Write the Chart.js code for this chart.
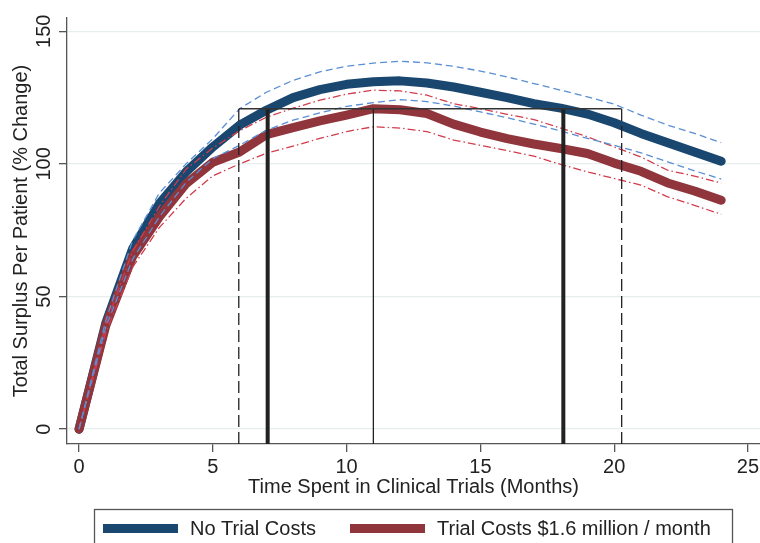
<!DOCTYPE html>
<html>
<head>
<meta charset="utf-8">
<script src="https://cdn.jsdelivr.net/npm/chart.js@4/dist/chart.umd.min.js"></script>
<style>
  body { margin: 0; background: #fff; }
</style>
</head>
<body>
<canvas id="mycanvas" width="760" height="543"></canvas>
<script>
// months in clinical trials
var months = [0, 1, 2, 3, 4, 5, 6, 7, 8, 9, 10, 11, 12, 13, 14, 15, 16, 17, 18, 19, 20, 21, 22, 23, 24];

// no trial costs: estimate and confidence band
var noCost   = [0, 40, 68, 85, 97, 106.4, 114.6, 120.2, 125, 128, 130, 131, 131.3, 130.5, 129, 127, 125, 122.7, 121, 118.8, 115.5, 111.5, 108, 104.5, 101];
var noCostHi = [0, 41, 71, 89, 100, 109.5, 120.8, 127, 131.5, 134.7, 136.8, 138, 138.7, 138.1, 136.8, 135, 132.8, 130.3, 127.8, 125.3, 122.5, 118.4, 114.6, 111.5, 108];
var noCostLo = [0, 38.5, 64, 80, 93, 102, 107, 112.7, 116.5, 119.2, 121.7, 123.1, 124.2, 123.5, 121.8, 119.6, 117.4, 115, 112.4, 109.6, 107, 104.2, 100.8, 97.4, 94.3];

// trial costs $1.6 million / month
var withCost   = [0, 39, 65, 80, 92.5, 100.6, 104.5, 111, 113.7, 116.2, 118.4, 120.8, 120.4, 119, 115, 112, 109.5, 107.5, 105.8, 103.9, 100.3, 97.2, 92.8, 89.8, 86.3];
var withCostHi = [0, 39.5, 67, 84, 98, 106, 112.5, 117.6, 121, 124, 126.3, 127.8, 127.5, 125.9, 122.7, 120.8, 118.7, 116.7, 113.5, 110.2, 106.4, 102.6, 97.6, 95.4, 92.8];
var withCostLo = [0, 36.5, 61, 76, 87, 95.5, 100, 104, 106.7, 109.6, 112.2, 114, 113.5, 112.2, 109, 107, 105, 102.9, 99.8, 97, 94.5, 92, 87.6, 84.4, 81];

// reference lines
var refLevel = 120.8;
var crossX = [7.05, 18.1];
var peakX = 11;
var bandX = [5.97, 20.28];

var xTicks = [0, 5, 10, 15, 20, 25];
var yTicks = [0, 50, 100, 150];
var xRange = [-0.45, 25.45];
var yRange = [-5.6, 155];

var labels = ["No Trial Costs", "Trial Costs $1.6 million / month"];
var xTitle = "Time Spent in Clinical Trials (Months)";
var yTitle = "Total Surplus Per Patient (% Change)";

var navy = "#1a476f";
var maroon = "#90353b";
var textColor = "#222";
var font = "20px 'Liberation Sans', Arial, sans-serif";

function pts(xs, ys) {
    return xs.map(function(x, i) { return {x: x, y: ys[i]}; });
}

function vline(x, top, width, dash) {
    return {
        data: [{x: x, y: yRange[0]}, {x: x, y: top}],
        borderColor: "#222", borderWidth: width, borderDash: dash || [],
        pointRadius: 0, fill: false
    };
}

function band(ys, color, dash) {
    return {
        data: pts(months, ys), borderColor: color, borderWidth: 1.3,
        borderDash: dash, pointRadius: 0, fill: false, tension: 0
    };
}

var datasets = [
    {
        data: [{x: bandX[0], y: refLevel}, {x: bandX[1], y: refLevel}],
        borderColor: "#333", borderWidth: 1.6, pointRadius: 0, fill: false
    },
    vline(crossX[0], refLevel, 4),
    vline(crossX[1], refLevel, 4),
    vline(peakX, refLevel, 1.3),
    vline(bandX[0], refLevel, 1.3, [12, 5]),
    vline(bandX[1], refLevel, 1.3, [12, 5]),
    band(noCostHi, "#5a8ed6", [7, 4]),
    band(noCostLo, "#5a8ed6", [7, 4]),
    band(withCostHi, "#d23c4c", [8, 3, 1.5, 3]),
    band(withCostLo, "#d23c4c", [8, 3, 1.5, 3]),
    {
        label: labels[1], data: pts(months, withCost), borderColor: maroon,
        borderWidth: 9, borderCapStyle: "round", borderJoinStyle: "round",
        pointRadius: 0, fill: false, tension: 0
    },
    {
        label: labels[0], data: pts(months, noCost), borderColor: navy,
        borderWidth: 9, borderCapStyle: "round", borderJoinStyle: "round",
        pointRadius: 0, fill: false, tension: 0
    }
];

// y tick labels are vertical in the original, plus titles and boxed legend
var decor = {
    id: "decor",
    afterDraw: function(chart) {
        var ctx = chart.ctx;
        var area = chart.chartArea;
        var ys = chart.scales.y;
        ctx.save();
        ctx.fillStyle = textColor;
        ctx.font = font;
        ctx.textAlign = "center";
        ctx.textBaseline = "alphabetic";

        ys.ticks.forEach(function(t) {
            ctx.save();
            ctx.translate(50, ys.getPixelForValue(t.value));
            ctx.rotate(-Math.PI / 2);
            ctx.fillText(String(t.value), 0, 0);
            ctx.restore();
        });

        ctx.save();
        ctx.translate(27, (area.top + area.bottom) / 2);
        ctx.rotate(-Math.PI / 2);
        ctx.fillText(yTitle, 0, 0);
        ctx.restore();

        var cx = (area.left + area.right) / 2;
        ctx.fillText(xTitle, cx, 493);

        // legend
        ctx.strokeStyle = "#555";
        ctx.lineWidth = 1.3;
        ctx.strokeRect(94.5, 509.5, 638, 60);
        ctx.textAlign = "left";
        ctx.fillStyle = navy;
        ctx.fillRect(103, 524, 75, 9);
        ctx.fillStyle = maroon;
        ctx.fillRect(350, 524, 75, 9);
        ctx.fillStyle = textColor;
        ctx.fillText(labels[0], 190, 535);
        ctx.fillText(labels[1], 437, 535);
        ctx.restore();
    }
};

var ctx = document.getElementById("mycanvas");

var chart = new Chart(ctx, {
    type: "line",
    data: {datasets: datasets},
    plugins: [decor],
    options: {
        responsive: false,
        animation: false,
        devicePixelRatio: 1,
        layout: {padding: {top: 18, left: 0, right: 0, bottom: 0}},
        plugins: {legend: {display: false}, tooltip: {enabled: false}},
        scales: {
            x: {
                type: "linear",
                min: xRange[0], max: xRange[1],
                afterBuildTicks: function(s) { s.ticks = xTicks.map(function(v) { return {value: v}; }); },
                afterFit: function(s) { s.height = 99; s.paddingLeft = 0; s.paddingRight = 0; },
                border: {color: "#555", width: 1.3},
                grid: {drawOnChartArea: false, drawTicks: true, tickLength: 8, tickColor: "#555", lineWidth: 1.3},
                ticks: {color: textColor, font: {family: "'Liberation Sans', Arial, sans-serif", size: 20}, padding: 3, maxRotation: 0}
            },
            y: {
                type: "linear",
                min: yRange[0], max: yRange[1],
                afterBuildTicks: function(s) { s.ticks = yTicks.map(function(v) { return {value: v}; }); },
                afterFit: function(s) { s.width = 67; s.paddingTop = 0; s.paddingBottom = 0; },
                border: {color: "#555", width: 1.3},
                grid: {color: "#e6eef0", lineWidth: 1.3, drawTicks: true, tickLength: 8, tickColor: "#555"},
                ticks: {display: false}
            }
        }
    }
});
</script>
</body>
</html>
